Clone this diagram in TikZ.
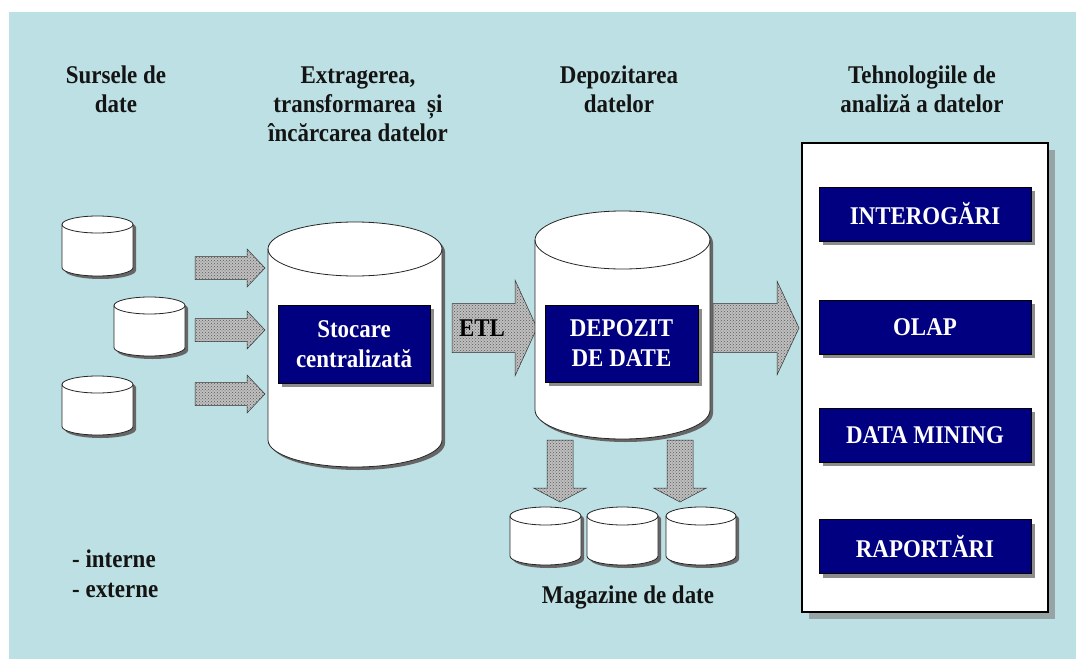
\documentclass[tikz,border=0pt]{standalone}
\usepackage{fontspec}
\setmainfont{Liberation Serif}[FakeStretch=0.9]
\usetikzlibrary{patterns,shadows}
\definecolor{bgblue}{RGB}{188,224,227}
\definecolor{navybox}{RGB}{0,0,128}
\definecolor{txt}{RGB}{20,20,20}
\definecolor{panelshadow}{RGB}{150,164,166}
\tikzset{
  title/.style={font=\bfseries\fontsize{25.5}{29}\selectfont, align=center, text=txt, inner sep=0pt, anchor=base},
  bluebox/.style={draw=black, line width=0.6pt, fill=navybox, text=white,
    font=\bfseries\fontsize{25.5}{30}\selectfont, align=center, inner sep=0pt,
    drop shadow={shadow xshift=4pt, shadow yshift=-4pt, fill=black!45, opacity=1}},
  blockarrow/.style={draw=black!80, line width=0.5pt, preaction={fill=black!25},
    pattern=crosshatch dots, pattern color=black!65},
  cylshadow/.style={fill=black!60},
  cylline/.style={draw=black!85, line width=0.8pt},
}
% cylinder: name, left, right, top, bottom, ry
\newcommand\dbcyl[6]{%
  \pgfmathsetmacro\cylcx{(#2+#3)/2}%
  \pgfmathsetmacro\cylrx{(#3-#2)/2}%
  \fill[cylshadow] ({#2+3},{#4+#6+3}) -- ({#2+3},{#5-#6+3})
    arc[start angle=180,end angle=360,x radius=\cylrx pt,y radius=#6 pt]
    -- ({#3+3},{#4+#6+3})
    arc[start angle=0,end angle=180,x radius=\cylrx pt,y radius=#6 pt] -- cycle;
  \fill[white] (#2,{#4+#6}) -- (#2,{#5-#6})
    arc[start angle=180,end angle=360,x radius=\cylrx pt,y radius=#6 pt]
    -- (#3,{#4+#6})
    arc[start angle=0,end angle=180,x radius=\cylrx pt,y radius=#6 pt] -- cycle;
  \draw[cylline] (#2,{#4+#6}) -- (#2,{#5-#6})
    arc[start angle=180,end angle=360,x radius=\cylrx pt,y radius=#6 pt]
    -- (#3,{#4+#6});
  \draw[cylline] (\cylcx,{#4+#6}) ellipse[x radius=\cylrx pt, y radius=#6 pt];
  \coordinate (#1) at (\cylcx,{(#4+#5)/2});
}
% horizontal block arrow: x0 x1 x2 yc bodyhalf headhalf
\newcommand\hArrow[6]{%
  \path[blockarrow] (#1,{#4-#5}) -- (#2,{#4-#5}) -- (#2,{#4-#6}) -- (#3,#4)
    -- (#2,{#4+#6}) -- (#2,{#4+#5}) -- (#1,{#4+#5}) -- cycle;}
% vertical block arrow: xc y0 y1 y2 bodyhalf headhalf
\newcommand\vArrow[6]{%
  \path[blockarrow] ({#1-#5},#2) -- ({#1-#5},#3) -- ({#1-#6},#3) -- (#1,#4)
    -- ({#1+#6},#3) -- ({#1+#5},#3) -- ({#1+#5},#2) -- cycle;}

\begin{document}
\begin{tikzpicture}[x=1pt,y=-1pt]
\useasboundingbox (0,0) rectangle (1076,661);
\fill[bgblue] (9,12) rectangle (1076,659);

% titles (anchor base = last line)
\node[title] (t1) at (116,112) {Sursele de\\date};
\node[title] (t2) at (358,141) {Extragerea,\\transformarea \ și\\încărcarea datelor};
\node[title] (t3) at (619,112) {Depozitarea\\datelor};
\node[title] (t4) at (922,112) {Tehnologiile de\\analiză a datelor};

% source cylinders
\dbcyl{src1}{62}{133}{216}{276}{8.5}
\dbcyl{src2}{114}{185}{297}{356}{8.5}
\dbcyl{src3}{62}{133}{376}{435}{8.5}

% small arrows
\hArrow{195}{247}{265}{268}{11.5}{19}
\hArrow{195}{247}{265}{330}{11.5}{19}
\hArrow{195}{247}{265}{394}{11.5}{19}

% central storage cylinder
\dbcyl{stoc}{268}{442}{222}{467}{27}
\node[bluebox, minimum width=152pt, minimum height=78pt] (stocbox) at (354,344) {Stocare\\centralizată};

% ETL arrow
\hArrow{452}{515}{537}{328}{24.5}{48}
\node[font=\bfseries\fontsize{25.5}{27}\selectfont, text=black, inner sep=0pt] (etl) at (482,328) {ETL};

% warehouse cylinder
\dbcyl{depo}{535}{710}{211}{439}{29}
\node[bluebox, minimum width=153pt, minimum height=77pt] (depobox) at (621.5,343.5) {DEPOZIT\\DE DATE};

% arrow to analysis
\hArrow{713}{777}{799}{328}{24.5}{47}

% down arrows
\vArrow{560}{440}{488}{502}{13}{26.5}
\vArrow{680}{440}{488}{502}{13}{26.5}

% data marts
\dbcyl{mag1}{510}{581}{507}{565}{9}
\dbcyl{mag2}{587}{658}{507}{565}{9}
\dbcyl{mag3}{666}{736}{507}{565}{9}
\node[title] (magt) at (628,603) {Magazine de date};

% internal/external
\node[font=\bfseries\fontsize{25.5}{30}\selectfont, text=txt, align=left, inner sep=0pt, anchor=base west] (intext) at (72,597) {- interne\\- externe};

% analysis panel
\node[draw=black, line width=1.6pt, fill=white, minimum width=246pt, minimum height=469pt, inner sep=0pt,
  drop shadow={shadow xshift=7pt, shadow yshift=-7pt, fill=panelshadow, opacity=1}] (panel) at (925,377.5) {};
\node[bluebox, minimum width=212pt, minimum height=54pt] (q) at (925,214) {INTEROGĂRI};
\node[bluebox, minimum width=212pt, minimum height=54pt] (olap) at (925,327) {OLAP};
\node[bluebox, minimum width=212pt, minimum height=54pt] (dm) at (925,435) {DATA MINING};
\node[bluebox, minimum width=212pt, minimum height=54pt] (rap) at (925,546.5) {RAPORTĂRI};
\end{tikzpicture}
\end{document}
